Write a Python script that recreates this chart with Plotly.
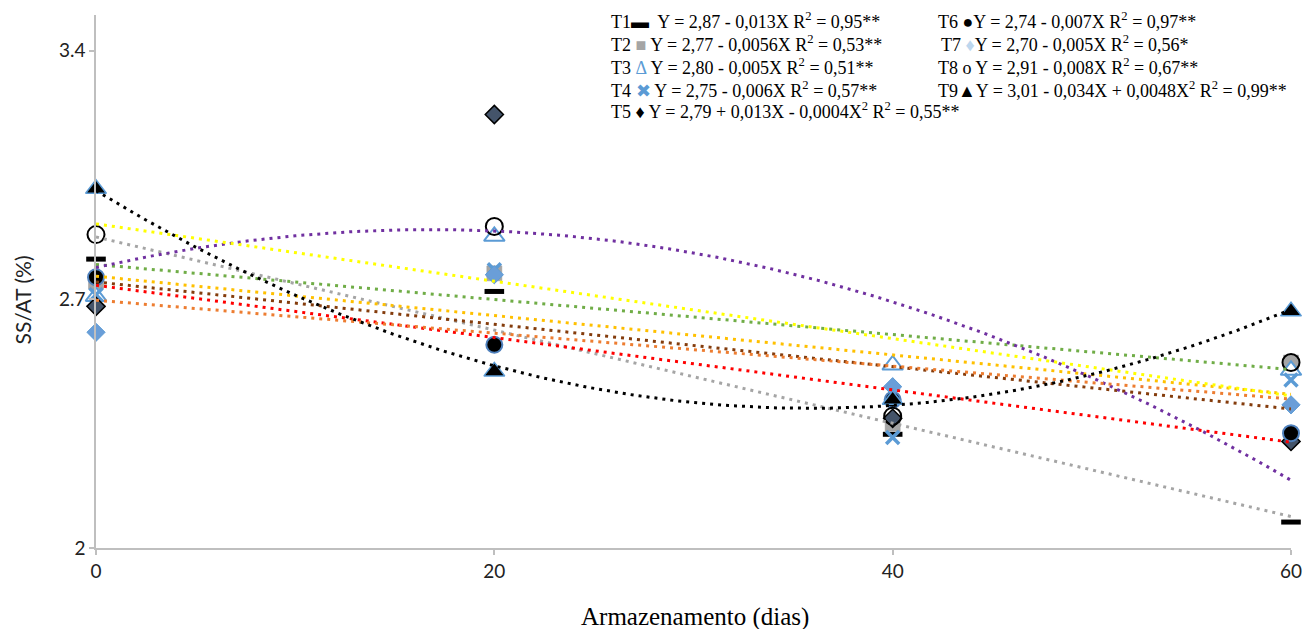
import numpy as np
import plotly.graph_objects as go

# Storage days
dias = [0, 20, 40, 60]

# SS/AT values per treatment
t1 = [2.813, 2.722, 2.320, 2.073]
t2 = [2.750, 2.773, 2.350, 2.522]
t3 = [2.708, 2.877, 2.515, 2.500]
t4 = [2.713, 2.783, 2.311, 2.473]
t5 = [2.680, 3.220, 2.365, 2.300]
t6 = [2.762, 2.572, 2.417, 2.323]
t7 = [2.607, 2.769, 2.454, 2.403]
t8 = [2.882, 2.905, 2.371, 2.522]
t9 = [3.011, 2.497, 2.417, 2.666]

series = [t1, t2, t3, t4, t5, t6, t7, t8, t9]
names = ["T1", "T2", "T3", "T4", "T5", "T6", "T7", "T8", "T9"]
# polynomial degree of each trendline
degrees = [1, 1, 1, 1, 2, 1, 1, 1, 2]

# Equations printed in the key
eq_col1 = [
    "T1<b>▬</b>  Y = 2,87 - 0,013X R<sup>2</sup> = 0,95**",
    "T2 <span style='color:#A5A5A5'>■</span> Y = 2,77 - 0,0056X R<sup>2</sup> = 0,53**",
    "T3 <span style='color:#5B9BD5'>Δ</span> Y = 2,80 - 0,005X R<sup>2</sup> = 0,51**",
    "T4 <span style='color:#5B9BD5'>✖</span> Y = 2,75 - 0,006X R<sup>2</sup> = 0,57**",
    "T5 ♦ Y = 2,79 + 0,013X - 0,0004X<sup>2</sup> R<sup>2</sup> = 0,55**",
]
eq_col2 = [
    "T6 ●Y = 2,74 - 0,007X R<sup>2</sup> = 0,97**",
    "T7 <span style='color:#BDD7EE'>♦</span>Y = 2,70 - 0,005X R<sup>2</sup> = 0,56*",
    "T8 o Y = 2,91 - 0,008X R<sup>2</sup> = 0,67**",
    "T9▲Y = 3,01 - 0,034X + 0,0048X<sup>2</sup> R<sup>2</sup> = 0,99**",
]

x_ticks = [0, 20, 40, 60]
y_ticks = [2, 2.7, 3.4]
y_ticktext = ["2", "2.7", "3.4"]

# ---- styles ----
trend_colors = ["#A5A5A5", "#FFC000", "#70AD47", "#843C0C", "#7030A0",
                "#FF0000", "#ED7D31", "#FFFF00", "#000000"]
marker_styles = [
    dict(symbol="line-ew", size=14, color="black", line=dict(color="black", width=5)),
    dict(symbol="square", size=15, color="#A5A5A5", line=dict(color="#9A9A9A", width=0.5)),
    dict(symbol="triangle-up", size=18, color="white", line=dict(color="#5B9BD5", width=2)),
    dict(symbol="x-thin", size=13, color="#5B9BD5", line=dict(color="#5B9BD5", width=3.5)),
    dict(symbol="diamond", size=14, color="#44546A", line=dict(color="black", width=1.5)),
    dict(symbol="circle", size=16, color="black", line=dict(color="#4F81BD", width=2)),
    dict(symbol="diamond", size=14, color="#6A9ED8", line=dict(color="#5B9BD5", width=1)),
    dict(symbol="circle-open", size=17, color="black", line=dict(color="black", width=2)),
    dict(symbol="triangle-up", size=18, color="black", line=dict(color="#5B9BD5", width=1.5)),
]

fig = go.Figure()

# markers
for name, ys, ms in zip(names, series, marker_styles):
    fig.add_trace(go.Scatter(
        x=dias, y=ys, mode="markers", name=name, marker=ms,
        cliponaxis=False, showlegend=False,
    ))

# least-squares trendlines (dotted)
xs = np.linspace(min(dias), max(dias), 241)
for name, ys, deg, col in zip(names, series, degrees, trend_colors):
    coef = np.polyfit(dias, ys, deg)
    fig.add_trace(go.Scatter(
        x=xs, y=np.polyval(coef, xs), mode="lines", name=name + " tendência",
        line=dict(color=col, width=3, dash="3px,5px"),
        cliponaxis=False, showlegend=False, hoverinfo="skip",
    ))

# plot area geometry in pixels
W, H = 1314, 629
L, R, T, B = 96, 15, 15, 81
pw, ph = W - L - R, H - T - B


def px(xp):
    return (xp - L) / pw


def py(yp):
    return (H - B - yp) / ph


key_font = dict(family="Liberation Serif", size=18, color="black")
annotations = []
row_y = [21, 44, 67, 89, 110]
for txt, yy in zip(eq_col1, row_y):
    annotations.append(dict(
        text=txt, x=px(612), y=py(yy), xref="paper", yref="paper",
        xanchor="left", yanchor="middle", showarrow=False, font=key_font,
    ))
for txt, yy, xx in zip(eq_col2, row_y[:4], [942, 945, 942, 942]):
    annotations.append(dict(
        text=txt, x=px(xx), y=py(yy), xref="paper", yref="paper",
        xanchor="left", yanchor="middle", showarrow=False, font=key_font,
    ))

# axis titles
annotations.append(dict(
    text="Armazenamento (dias)", x=px(699), y=py(617), xref="paper", yref="paper",
    xanchor="center", yanchor="middle", showarrow=False,
    font=dict(family="Liberation Serif", size=25, color="black"),
))
annotations.append(dict(
    text="SS/AT (%)", x=px(22), y=py(300), xref="paper", yref="paper",
    xanchor="center", yanchor="middle", showarrow=False, textangle=-90,
    font=dict(family="Lato", size=21, color="#222222"),
))

tick_font = dict(family="Lato", size=19, color="#222222")
fig.update_layout(
    width=W, height=H,
    margin=dict(l=L, r=R, t=T, b=B),
    paper_bgcolor="white", plot_bgcolor="white",
    annotations=annotations,
    xaxis=dict(
        range=[0, 60], tickvals=x_ticks, showgrid=False, zeroline=False,
        showline=True, linecolor="#BFBFBF", linewidth=1.5,
        ticks="outside", ticklen=5, tickcolor="#BFBFBF", tickwidth=1.5,
        tickfont=tick_font,
    ),
    yaxis=dict(
        range=[2, 3.5], tickvals=y_ticks, ticktext=y_ticktext,
        showgrid=False, zeroline=False,
        showline=True, linecolor="#BFBFBF", linewidth=1.5,
        ticks="outside", ticklen=5, tickcolor="#BFBFBF", tickwidth=1.5,
        tickfont=tick_font,
    ),
)

fig.write_html("out.html")
